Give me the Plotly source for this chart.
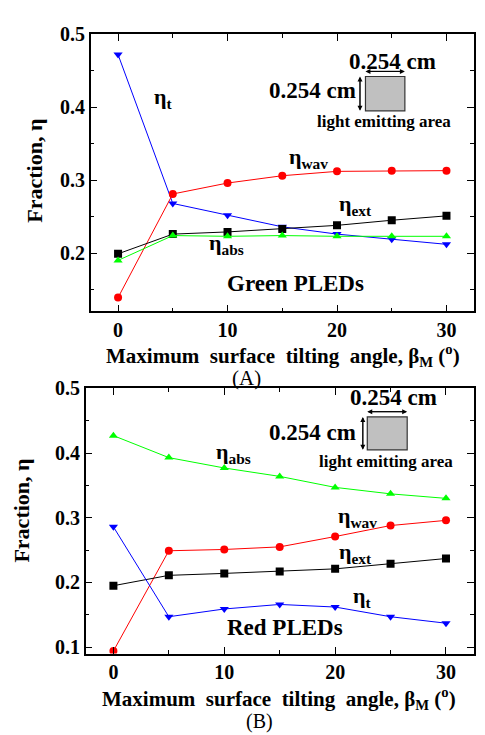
import plotly.graph_objects as go

angles = [0, 5, 10, 15, 20, 25, 30]

# Green PLEDs (A)
g_t = [0.472, 0.268, 0.252, 0.236, 0.226, 0.219, 0.212]
g_wav = [0.139, 0.281, 0.296, 0.306, 0.312, 0.313, 0.313]
g_ext = [0.199, 0.226, 0.229, 0.233, 0.238, 0.245, 0.251]
g_abs = [0.190, 0.224, 0.223, 0.224, 0.223, 0.223, 0.223]

# Red PLEDs (B)
r_abs = [0.427, 0.393, 0.377, 0.364, 0.347, 0.337, 0.330]
r_wav = [0.094, 0.249, 0.251, 0.255, 0.271, 0.288, 0.296]
r_ext = [0.195, 0.211, 0.214, 0.217, 0.221, 0.229, 0.237]
r_t = [0.286, 0.147, 0.159, 0.166, 0.162, 0.147, 0.137]

x_ticks = [0, 10, 20, 30]

FONT = "Liberation Serif, Times New Roman, serif"

fig = go.Figure()

def add_series(y, color, symbol, xa, ya):
    fig.add_trace(go.Scatter(
        x=angles, y=y, mode="lines+markers",
        line=dict(color=color, width=1),
        marker=dict(symbol=symbol, size=8, color=color),
        xaxis=xa, yaxis=ya, showlegend=False, hoverinfo="skip"))

add_series(g_t, "#0000ff", "triangle-down", "x", "y")
add_series(g_wav, "#ff0000", "circle", "x", "y")
add_series(g_ext, "#000000", "square", "x", "y")
add_series(g_abs, "#00ff00", "triangle-up", "x", "y")

add_series(r_abs, "#00ff00", "triangle-up", "x2", "y2")
add_series(r_wav, "#ff0000", "circle", "x2", "y2")
add_series(r_ext, "#000000", "square", "x2", "y2")
add_series(r_t, "#0000ff", "triangle-down", "x2", "y2")

tickfont = dict(family=FONT, size=20, color="black", weight="bold")
axcommon = dict(showline=True, linecolor="black", linewidth=1.5, mirror="ticks",
                ticks="inside", ticklen=7, tickcolor="black", tickwidth=1.2,
                showgrid=False, zeroline=False, tickfont=tickfont)

fig.update_layout(
    width=485, height=735,
    margin=dict(l=0, r=0, t=0, b=0),
    paper_bgcolor="white", plot_bgcolor="white",
    xaxis=dict(domain=[0.187, 0.977], range=[-2.5, 32.5], tickvals=x_ticks,
               minor=dict(ticks="inside", dtick=5, tick0=0, ticklen=4, tickcolor="black"),
               anchor="y", **axcommon),
    yaxis=dict(domain=[0.5827, 0.9678], range=[0.12, 0.5], dtick=0.1, tickformat=".1f",
               minor=dict(ticks="inside", dtick=0.05, ticklen=4, tickcolor="black"),
               anchor="x", **axcommon),
    xaxis2=dict(domain=[0.1767, 0.9767], range=[-2.5, 32.5], tickvals=x_ticks,
                minor=dict(ticks="inside", dtick=5, tick0=0, ticklen=4, tickcolor="black"),
                anchor="y2", **axcommon),
    yaxis2=dict(domain=[0.1075, 0.4758], range=[0.09, 0.5], dtick=0.1, tickformat=".1f",
                minor=dict(ticks="inside", dtick=0.05, ticklen=4, tickcolor="black"),
                anchor="x2", **axcommon),
)

ann = []
def txt(text, x, y, xr, yr, size=22, xanchor="left", yanchor="middle"):
    ann.append(dict(text=text, x=x, y=y, xref=xr, yref=yr, showarrow=False,
                    xanchor=xanchor, yanchor=yanchor,
                    font=dict(family=FONT, size=size, color="black")))

def b(s):
    return "<b>" + s + "</b>"

# Top panel labels
txt(b("η<sub>t</sub>"), 3.1, 0.413, "x", "y")
txt(b("η<sub>wav</sub>"), 15.4, 0.330, "x", "y")
txt(b("η<sub>ext</sub>"), 20.0, 0.266, "x", "y")
txt(b("η<sub>abs</sub>"), 8.1, 0.212, "x", "y")
txt(b("Green PLEDs"), 16.2, 0.158, "x", "y", size=23, xanchor="center")
txt(b("0.254 cm"), 25.1, 0.463, "x", "y", size=23, xanchor="center")
txt(b("0.254 cm"), 17.8, 0.423, "x", "y", size=23, xanchor="center")
txt(b("light emitting area"), 24.3, 0.381, "x", "y", size=17, xanchor="center")

# Bottom panel labels
txt(b("η<sub>abs</sub>"), 9.1, 0.400, "x2", "y2")
txt(b("η<sub>wav</sub>"), 20.1, 0.301, "x2", "y2")
txt(b("η<sub>ext</sub>"), 20.2, 0.246, "x2", "y2")
txt(b("η<sub>t</sub>"), 21.4, 0.178, "x2", "y2")
txt(b("Red PLEDs"), 15.5, 0.130, "x2", "y2", size=23, xanchor="center")
txt(b("0.254 cm"), 25.3, 0.486, "x2", "y2", size=23, xanchor="center")
txt(b("0.254 cm"), 18.0, 0.432, "x2", "y2", size=23, xanchor="center")
txt(b("light emitting area"), 24.6, 0.387, "x2", "y2", size=17, xanchor="center")

# Axis titles and panel letters (paper coords)
def ptxt(text, x, y, size=18, angle=0):
    ann.append(dict(text=text, x=x, y=y, xref="paper", yref="paper", showarrow=False,
                    xanchor="center", yanchor="middle", textangle=angle,
                    font=dict(family=FONT, size=size, color="black")))

xtitle = b("Maximum  surface  tilting  angle, β<sub>M</sub> (<sup>o</sup>)")
ptxt(xtitle, 0.583, 1 - 352 / 735, size=21)
ptxt(b("Fraction, η"), 35 / 485, 1 - 163 / 735, size=22, angle=-90)
ptxt("(A)", 0.509, 1 - 375 / 735, size=21)
ptxt(xtitle, 0.575, 1 - 702 / 735, size=21)
ptxt(b("Fraction, η"), 22 / 485, 1 - 510 / 735, size=22, angle=-90)
ptxt("(B)", 0.535, 1 - 725 / 735, size=20)

# Inset double arrows
def darrow(x0, y0, x1, y1, xr, yr):
    for (a, bb, c, d) in [(x0, y0, x1, y1), (x1, y1, x0, y0)]:
        ann.append(dict(x=a, y=bb, ax=c, ay=d, xref=xr, yref=yr, axref=xr, ayref=yr,
                        showarrow=True, arrowhead=2, arrowsize=1, arrowwidth=1,
                        arrowcolor="black", text=""))

darrow(22.6, 0.449, 26.2, 0.449, "x", "y")
darrow(22.1, 0.442, 22.1, 0.395, "x", "y")
darrow(22.9, 0.464, 26.5, 0.464, "x2", "y2")
darrow(22.5, 0.456, 22.5, 0.405, "x2", "y2")

fig.update_layout(annotations=ann)

fig.add_shape(type="rect", x0=22.6, x1=26.2, y0=0.395, y1=0.442, xref="x", yref="y",
              fillcolor="#c0c0c0", line=dict(color="#333333", width=1.2))
fig.add_shape(type="rect", x0=22.9, x1=26.5, y0=0.405, y1=0.456, xref="x2", yref="y2",
              fillcolor="#c0c0c0", line=dict(color="#333333", width=1.2))

fig.write_html("out.html", config={"displayModeBar": False},
               post_script="document.body.style.margin='0';document.body.style.overflow='hidden';")
